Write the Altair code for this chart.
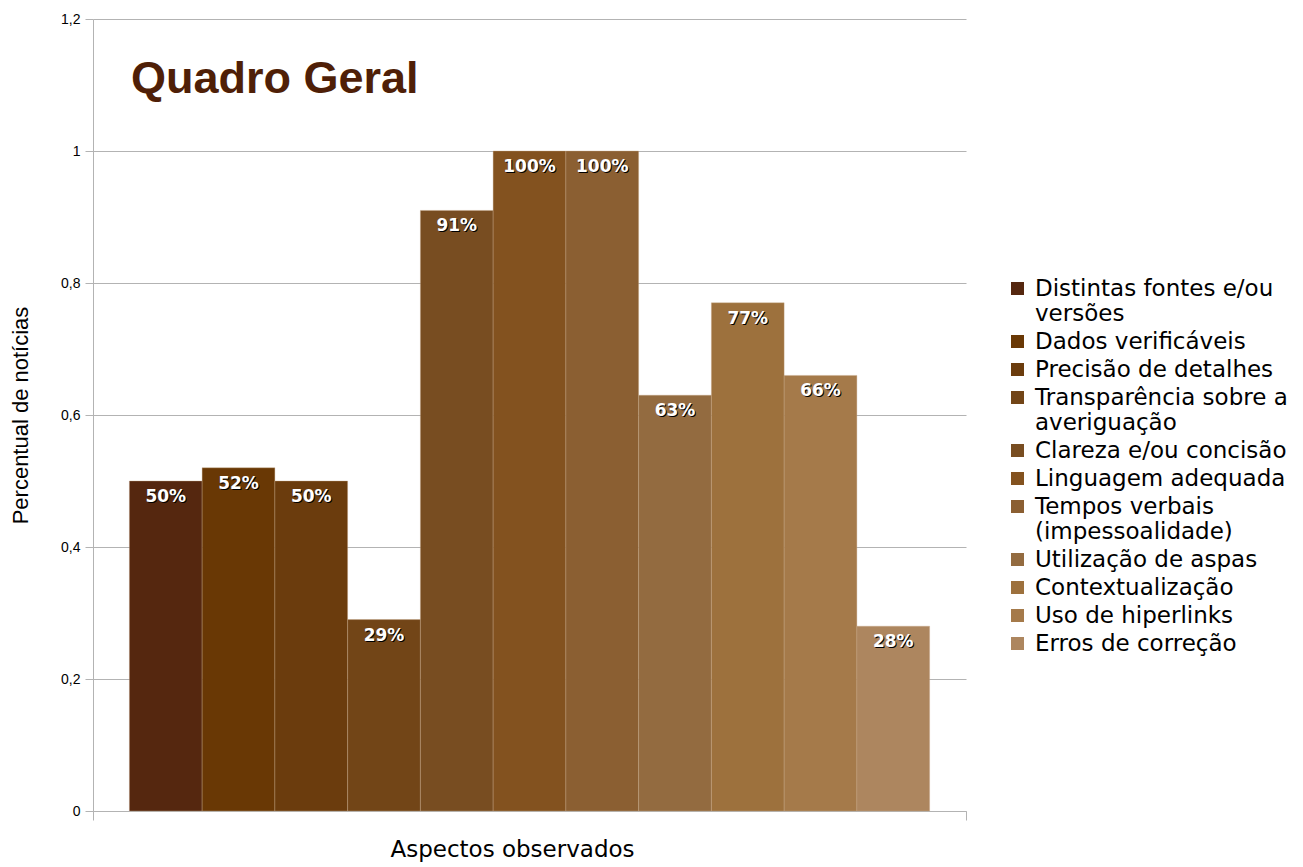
import altair as alt
import pandas as pd

categories = [
    "Distintas fontes e/ou versões",
    "Dados verificáveis",
    "Precisão de detalhes",
    "Transparência sobre a averiguação",
    "Clareza e/ou concisão",
    "Linguagem adequada",
    "Tempos verbais (impessoalidade)",
    "Utilização de aspas",
    "Contextualização",
    "Uso de hiperlinks",
    "Erros de correção",
]
values = [0.50, 0.52, 0.50, 0.29, 0.91, 1.00, 1.00, 0.63, 0.77, 0.66, 0.28]
labels = ["50%", "52%", "50%", "29%", "91%", "100%", "100%", "63%", "77%", "66%", "28%"]
colors = ["#55270F", "#693805", "#6B3C0D", "#724517", "#784D21", "#83521F",
          "#8B5F32", "#936B40", "#9D713D", "#A57A4A", "#AD865F"]
wrapped = {
    "Distintas fontes e/ou versões": ["Distintas fontes e/ou", "versões"],
    "Transparência sobre a averiguação": ["Transparência sobre a", "averiguação"],
    "Tempos verbais (impessoalidade)": ["Tempos verbais", "(impessoalidade)"],
}
chart_title = "Quadro Geral"

df = pd.DataFrame({
    "aspecto": categories,
    "valor": values,
    "rotulo": labels,
    "i0": list(range(len(categories))),
})
df["i1"] = df["i0"] + 1
df["im"] = df["i0"] + 0.5

expr = "datum.label"
for k, v in reversed(list(wrapped.items())):
    arr = "[" + ", ".join("'" + s + "'" for s in v) + "]"
    expr = f"datum.label == '{k}' ? {arr} : ({expr})"

xscale = alt.Scale(domain=[-0.5, 11.5], nice=False, zero=False)
yscale = alt.Scale(domain=[0, 1.2], nice=False)
grey = "#b3b3b3"

bars = alt.Chart(df).mark_bar(stroke="#c8a886", strokeWidth=0.6, strokeOpacity=0.6).encode(
    x=alt.X("i0:Q", scale=xscale,
            axis=alt.Axis(values=[-0.5, 11.5], labels=False, grid=False, tickSize=9,
                          tickColor=grey, domainColor=grey, title="Aspectos observados",
                          titleFont="DejaVu Sans", titleFontSize=23, titleFontWeight="normal",
                          titleColor="#000000", titlePadding=18, titleX=419)),
    x2="i1:Q",
    y=alt.Y("valor:Q", scale=yscale,
            axis=alt.Axis(values=[0, 0.2, 0.4, 0.6, 0.8, 1.0, 1.2],
                          labelExpr="replace(format(datum.value, '~g'), '.', ',')",
                          labelFont="Liberation Sans", labelFontSize=14, labelColor="#000000",
                          labelPadding=5, tickSize=8, tickColor=grey, domainColor=grey,
                          gridColor=grey,
                          title="Percentual de notícias", titleFont="Liberation Sans",
                          titleFontSize=22, titleFontWeight="normal", titleColor="#000000",
                          titlePadding=28)),
    y2=alt.datum(0),
    color=alt.Color("aspecto:N", sort=categories,
                    scale=alt.Scale(domain=categories, range=colors),
                    legend=alt.Legend(title=None, orient="none", legendX=913, legendY=258,
                                      symbolType="square", symbolSize=170, symbolStrokeWidth=0,
                                      labelFont="DejaVu Sans", labelFontSize=23,
                                      labelColor="#000000", labelLimit=400,
                                      labelExpr=expr,
                                      labelBaseline="middle", rowPadding=4, labelOffset=6)),
)

shadow = alt.Chart(df).mark_text(font="DejaVu Sans", fontSize=17, fontWeight="bold",
                                  color="#000000", baseline="middle", dy=17, dx=1).encode(
    x=alt.X("im:Q", scale=xscale), y=alt.Y("valor:Q", scale=yscale), text="rotulo:N")
text = alt.Chart(df).mark_text(font="DejaVu Sans", fontSize=17, fontWeight="bold",
                                color="#ffffff", baseline="middle", dy=16).encode(
    x=alt.X("im:Q", scale=xscale), y=alt.Y("valor:Q", scale=yscale), text="rotulo:N")

title = alt.Chart(pd.DataFrame({"t": [chart_title]})).mark_text(
    font="Liberation Sans", fontSize=45, fontWeight="bold", color="#4F1F07",
    align="left", baseline="alphabetic").encode(
    x=alt.value(38), y=alt.value(74), text="t:N")

chart = alt.layer(bars, shadow, text, title).properties(
    width=873, height=792,
    padding={"left": 1, "top": 4, "right": 5, "bottom": 5},
).configure_view(stroke=None).configure_axis(domainWidth=1, gridWidth=1)

chart.save("out.html", embed_options={"renderer": "svg", "actions": False})
